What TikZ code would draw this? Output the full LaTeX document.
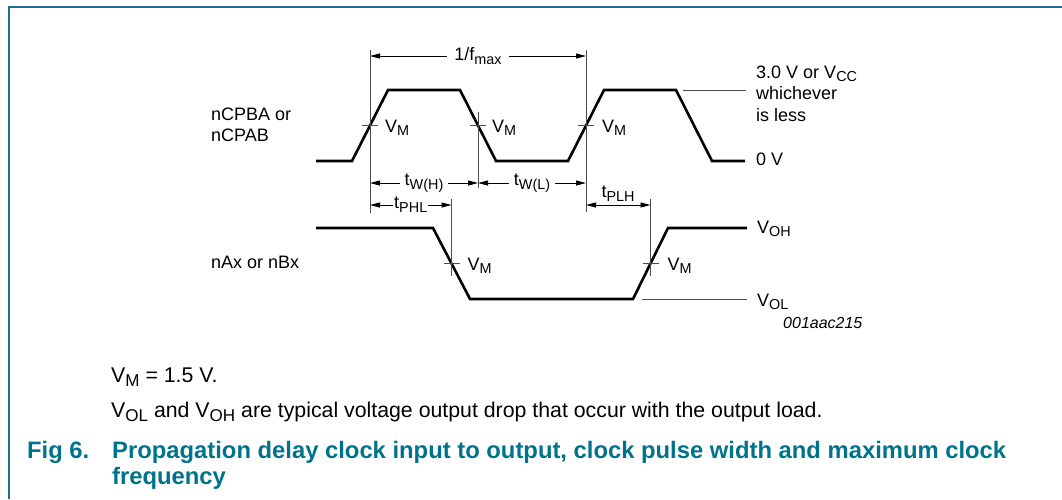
\documentclass[tikz,border=0pt]{standalone}
\usepackage{fontspec}
\setmainfont{Liberation Sans}
\usepackage{graphicx}
\usetikzlibrary{arrows.meta,positioning}
\definecolor{nxpteal}{RGB}{0,115,140}
\definecolor{framecol}{RGB}{30,110,150}
\newcommand{\subtxt}[1]{\raisebox{-0.22em}{\scalebox{0.8}{#1}}}
\tikzstyle{signal} = [draw, line width=2.6pt, line join=miter]
\tikzstyle{guide} = [draw, line width=0.9pt, color=black!70]
\tikzstyle{dim} = [draw, line width=0.9pt, {Triangle[length=10pt,width=5pt]}-{Triangle[length=10pt,width=5pt]}]
\tikzstyle{lbl} = [inner sep=0pt, font=\fontsize{18}{21.5}\selectfont]
\tikzstyle{dimlbl} = [lbl, fill=white, inner xsep=5pt, inner ysep=1pt]
\tikzstyle{note} = [inner sep=0pt, anchor=base west, font=\fontsize{21.3}{25}\selectfont]
\tikzstyle{caption} = [inner sep=0pt, anchor=base west, color=nxpteal, font=\fontsize{23.8}{26}\selectfont\bfseries]
\begin{document}
\begin{tikzpicture}[x=1pt, y=-1pt]

  \useasboundingbox (0,0) rectangle (1062,499);
  \draw[framecol, line width=2pt] (9,499) -- (9,7) -- (1062,7);

  % crossing points at V_M
  \coordinate (m1) at (370,125.5);
  \coordinate (m2) at (478,125.5);
  \coordinate (m3) at (586,125.5);
  \coordinate (o1) at (451.5,263.5);
  \coordinate (o2) at (650.5,263.5);
  % levels of the dimension lines
  \coordinate (ytop) at (0,50);
  \coordinate (yf) at (0,56);
  \coordinate (yw) at (0,183);
  \coordinate (yp) at (0,205);
  \coordinate (yo) at (0,199);

  % waveforms
  \path[signal] (316,161) -- (352,161) -- (388,90) -- (460,90) -- (496,161)
    -- (568,161) -- (604,90) -- (676,90) -- (712,161) -- (745,161);
  \path[signal] (316,228) -- (433,228) -- (470,299) -- (633,299)
    -- (668,228) -- (747,228);

  % reference lines
  \path[guide] (683,90) -- (746,90);
  \path[guide] (642,299) -- (747,299);
  \path[guide] (m1 |- ytop) -- ([yshift=-87.5pt]m1);
  \path[guide] ([yshift=14pt]m2) -- ([yshift=-62.5pt]m2);
  \path[guide] (m3 |- ytop) -- ([yshift=-86.5pt]m3);
  \path[guide] (o1 |- yo) -- ([yshift=-12.5pt]o1);
  \path[guide] (o2 |- yo) -- ([yshift=-12.5pt]o2);
  \foreach \c in {m1,m2,m3,o1,o2}
    \path[guide] ([xshift=-8pt]\c) -- ([xshift=8pt]\c);

  % timing
  \path[dim] (m1 |- yf) -- node[dimlbl, inner xsep=7pt] (fmax) {1/f\subtxt{max}} (m3 |- yf);
  \path[dim] (m1 |- yw) -- node[dimlbl] (twh) {t\subtxt{W(H)}} (m2 |- yw);
  \path[dim] (m2 |- yw) -- node[dimlbl] (twl) {t\subtxt{W(L)}} (m3 |- yw);
  \path[dim] (m1 |- yp) -- node[dimlbl, inner xsep=1pt] (tphl) {t\subtxt{PHL}} (o1 |- yp);
  \path[dim] (m3 |- yp) -- (o2 |- yp);
  \node[lbl, anchor=south] (tplh) at (618,202) {t\subtxt{PLH}};

  % V_M labels
  \node[lbl, anchor=base west] (vm1) at ([xshift=15pt, yshift=-6.5pt]m1) {V\subtxt{M}};
  \node[lbl, anchor=base west] (vm2) at ([xshift=14pt, yshift=-6.5pt]m2) {V\subtxt{M}};
  \node[lbl, anchor=base west] (vm3) at ([xshift=16pt, yshift=-6.5pt]m3) {V\subtxt{M}};
  \node[lbl, anchor=base west] (vm4) at ([xshift=16pt, yshift=-6.5pt]o1) {V\subtxt{M}};
  \node[lbl, anchor=base west] (vm5) at ([xshift=17pt, yshift=-6.5pt]o2) {V\subtxt{M}};

  % signal names and levels (base = last line)
  \node[lbl, align=left, anchor=base west] (clkname) at (211,141.5) {nCPBA or\\nCPAB};
  \node[lbl, anchor=base west] (outname) at (211,268) {nAx or nBx};
  \node[lbl, align=left, anchor=base west] (vcc) at (756,121) {3.0 V or V\subtxt{CC}\\whichever\\is less};
  \node[lbl, anchor=base west] (zero) at (756,165) {0 V};
  \node[lbl, anchor=base west] (voh) at (757,233) {V\subtxt{OH}};
  \node[lbl, anchor=base west] (vol) at (757,306) {V\subtxt{OL}};
  \node[lbl, anchor=base west, font=\fontsize{16}{18}\selectfont\itshape] (figid) at (783,328) {001aac215};

  % notes and caption
  \node[note] (vmnote) at (111,382) {V\subtxt{M} = 1.5 V.};
  \node[note] (volnote) at (111,417) {V\subtxt{OL} and V\subtxt{OH} are typical voltage output drop that occur with the output load.};
  \node[caption] (fignum) at (27,458) {Fig 6.};
  \node[caption, align=left] (figtitle) at (112,484) {Propagation delay clock input to output, clock pulse width and maximum clock\\frequency};

\end{tikzpicture}
\end{document}
